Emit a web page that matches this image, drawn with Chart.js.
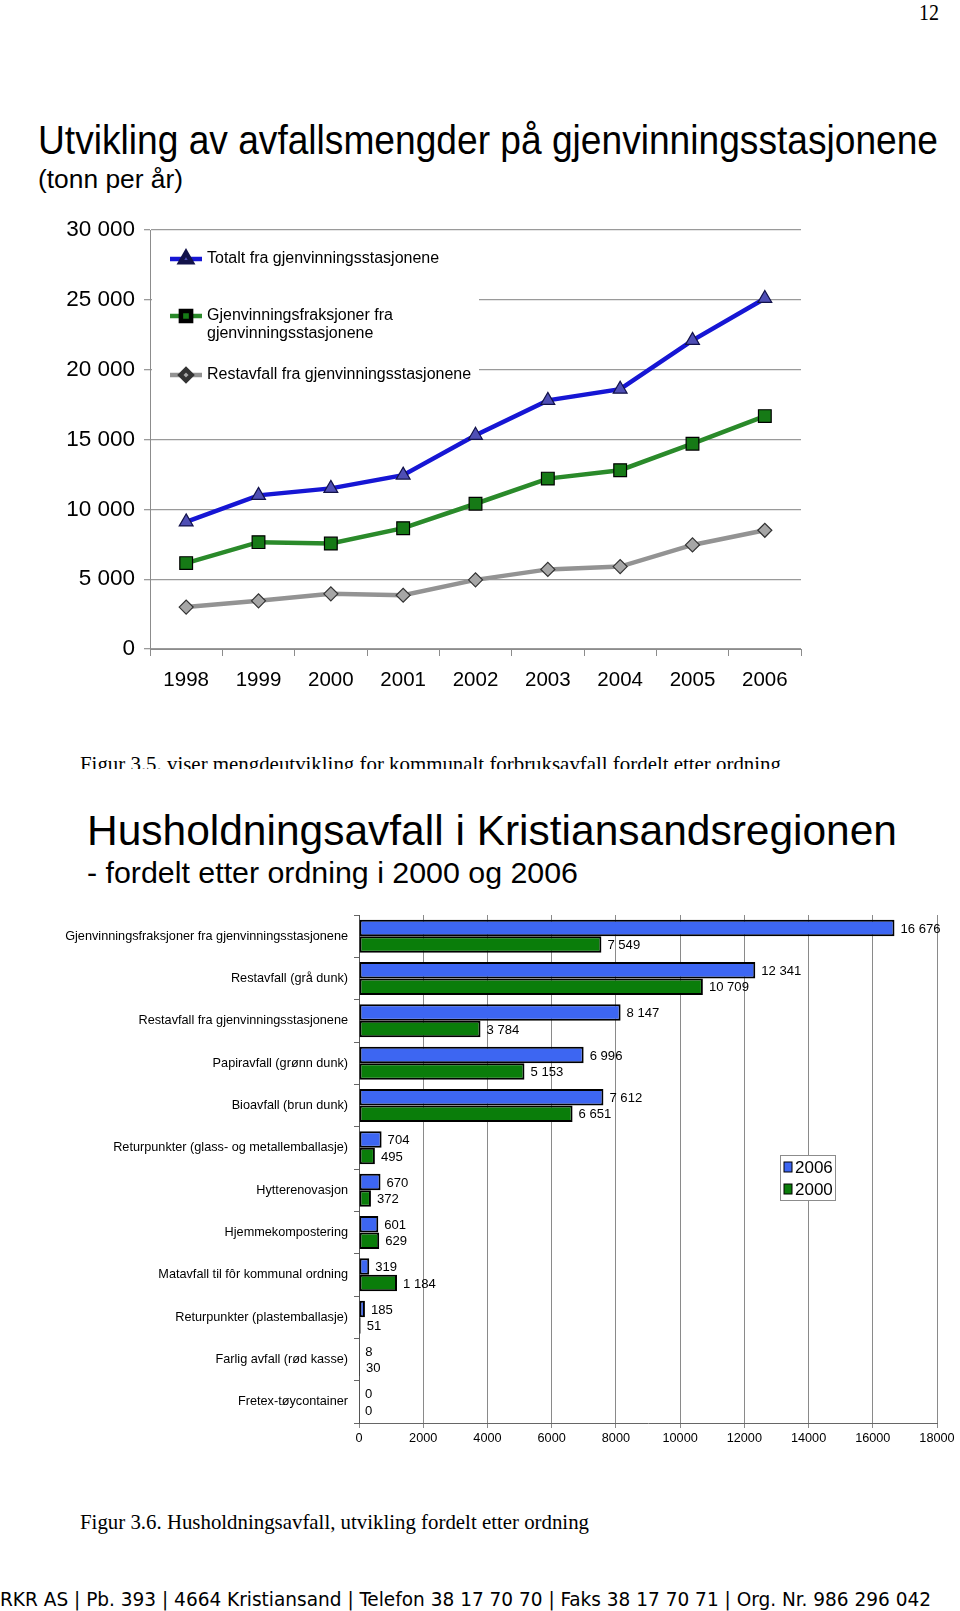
<!DOCTYPE html>
<html><head><meta charset="utf-8">
<script src="https://cdn.jsdelivr.net/npm/chart.js@4/dist/chart.umd.min.js"></script>
<style>
html,body{margin:0;padding:0;background:#fff;}
body{width:960px;height:1611px;position:relative;overflow:hidden;font-family:'Liberation Sans',Arial,sans-serif;color:#000;}
.t{position:absolute;white-space:nowrap;transform-origin:0 0;line-height:1;}
.serif{font-family:'Liberation Serif','Times New Roman',serif;}
canvas{position:absolute;left:0;}
</style></head><body>
<div class="t serif fit" data-w="20" style="left:919px;top:0px;font-size:24px;">12</div>
<div class="t fit" data-w="900" style="left:38px;top:120px;font-size:40px;">Utvikling av avfallsmengder på gjenvinningsstasjonene</div>
<div class="t fit" data-w="145" style="left:38px;top:166px;font-size:26px;">(tonn per år)</div>
<div style="position:absolute;left:0;top:750px;width:960px;height:19px;overflow:hidden;">
  <div class="t serif fit" data-w="701" style="left:80px;top:4px;font-size:21px;">Figur 3.5. viser mengdeutvikling for kommunalt forbruksavfall fordelt etter ordning</div>
</div>
<div class="t fit" data-w="810" style="left:87px;top:809px;font-size:43px;">Husholdningsavfall i Kristiansandsregionen</div>
<div class="t fit" data-w="491" style="left:87px;top:858px;font-size:30px;">- fordelt etter ordning i 2000 og 2006</div>
<div class="t serif fit" data-w="509" style="left:80px;top:1511px;font-size:22px;">Figur 3.6. Husholdningsavfall, utvikling fordelt etter ordning</div>
<div class="t fit" data-w="931" style="left:0px;top:1589px;font-size:20px;font-family:'DejaVu Sans Condensed','DejaVu Sans',sans-serif;">RKR AS | Pb. 393 | 4664 Kristiansand | Telefon 38 17 70 70 | Faks 38 17 70 71 | Org. Nr. 986 296 042</div>

<canvas id="c1" width="960" height="500" style="top:200px;width:960px;height:500px;"></canvas>
<canvas id="c2" width="960" height="600" style="top:880px;width:960px;height:600px;"></canvas>

<script>
// ---------- Data: chart 1 ----------
const years = ['1998','1999','2000','2001','2002','2003','2004','2005','2006'];
const totalt = [9100, 11000, 11500, 12450, 15300, 17800, 18600, 22100, 25100];
const gjenvinning = [6150, 7650, 7549, 8650, 10400, 12200, 12800, 14700, 16676];
const restavfall = [3000, 3450, 3950, 3850, 4950, 5700, 5900, 7450, 8500];
const seriesNames1 = ['Totalt fra gjenvinningsstasjonene', 'Gjenvinningsfraksjoner fra gjenvinningsstasjonene', 'Restavfall fra gjenvinningsstasjonene'];

// ---------- Data: chart 2 ----------
const ordninger = ['Gjenvinningsfraksjoner fra gjenvinningsstasjonene','Restavfall (grå dunk)','Restavfall fra gjenvinningsstasjonene','Papiravfall (grønn dunk)','Bioavfall (brun dunk)','Returpunkter (glass- og metallemballasje)','Hytterenovasjon','Hjemmekompostering','Matavfall til fôr kommunal ordning','Returpunkter (plastemballasje)','Farlig avfall (rød kasse)','Fretex-tøycontainer'];
const verdier2006 = [16676, 12341, 8147, 6996, 7612, 704, 670, 601, 319, 185, 8, 0];
const verdier2000 = [7549, 10709, 3784, 5153, 6651, 495, 372, 629, 1184, 51, 30, 0];
const aar2 = ['2006', '2000'];

// ---------- text fitting ----------
document.querySelectorAll('.fit').forEach(el => {
  const w = +el.dataset.w; const r = el.getBoundingClientRect().width;
  if (r > 0) el.style.transform = 'scaleX(' + (w / r) + ')';
});

function hasFont(name) {
  const c = document.createElement('canvas').getContext('2d');
  c.font = '40px monospace'; const a = c.measureText('mmmiiiWW 0123').width;
  c.font = '40px "' + name + '", monospace'; const b = c.measureText('mmmiiiWW 0123').width;
  return Math.abs(a - b) > 0.5;
}
const HAS_NARROW = hasFont('Liberation Sans Narrow');
function nf(size) {
  return HAS_NARROW ? {family: '"Liberation Sans Narrow"', size: size} : {family: '"Liberation Sans", Arial', size: Math.round(size * 0.82 * 10) / 10};
}
const fmt = v => String(Math.round(v)).replace(/\B(?=(\d{3})+(?!\d))/g, ' ');

// ---------- Chart 1 ----------
const styles1 = [
  {line: '#1616d4', style: 'triangle', r: 8, fill: '#4f4fb5', border: '#12124a'},
  {line: '#2a8a2a', style: 'rect', r: 9, fill: '#167a16', border: '#000'},
  {line: '#939393', style: 'rectRot', r: 7, fill: '#a6a6a6', border: '#333'}
];
const legend1 = {
  id: 'legend1',
  afterDatasetsDraw(chart) {
    const ctx = chart.ctx;
    ctx.save();
    ctx.fillStyle = '#fff';
    ctx.fillRect(152, 40, 327, 160);
    const items = [
      {y: 59, lines: [seriesNames1[0]]},
      {y: 116, lines: ['Gjenvinningsfraksjoner fra', 'gjenvinningsstasjonene']},
      {y: 175, lines: [seriesNames1[2]]}
    ];
    items.forEach((it, i) => {
      const s = styles1[i];
      ctx.strokeStyle = s.line; ctx.lineWidth = 4.5;
      ctx.beginPath(); ctx.moveTo(170, it.y); ctx.lineTo(202, it.y); ctx.stroke();
      ctx.fillStyle = s.fill; ctx.strokeStyle = s.border;
      Chart.helpers.drawPoint(ctx, {pointStyle: s.style, radius: s.r * 0.8, borderWidth: 1.2, rotation: 0}, 186, it.y);
      ctx.fillStyle = '#000';
      ctx.font = '16px "Liberation Sans", Arial';
      ctx.textBaseline = 'middle';
      it.lines.forEach((ln, k) => ctx.fillText(ln, 207, it.y + k * 18));
    });
    ctx.restore();
  }
};
new Chart(document.getElementById('c1'), {
  type: 'line',
  data: {labels: years, datasets: [totalt, gjenvinning, restavfall].map((d, i) => ({
    label: seriesNames1[i], data: d, borderColor: styles1[i].line, borderWidth: 4.5,
    pointStyle: styles1[i].style, pointRadius: styles1[i].r, pointBackgroundColor: styles1[i].fill,
    pointBorderColor: styles1[i].border, pointBorderWidth: 1.2, tension: 0, fill: false
  }))},
  options: {
    responsive: false, animation: false, devicePixelRatio: 1,
    layout: {padding: {top: 30, right: 159, left: 0, bottom: 0}},
    plugins: {legend: {display: false}, tooltip: {enabled: false}},
    scales: {
      x: {offset: true, grid: {offset: true, drawOnChartArea: false, tickLength: 7, color: '#8c8c8c'},
          border: {color: '#8c8c8c'}, ticks: {font: nf(25), color: '#000', padding: 12, maxRotation: 0},
          afterFit(s) { s.height = 51; }},
      y: {min: 0, max: 30000, ticks: {stepSize: 5000, callback: v => fmt(v), font: nf(27.5), color: '#000', padding: 9},
          grid: {color: '#9a9a9a', tickLength: 6, lineWidth: 1.3}, border: {color: '#8c8c8c'},
          afterFit(s) { s.width = 150; }}
    }
  },
  plugins: [legend1]
});

// ---------- Chart 2 ----------
const colors2 = ['#3d66f2', '#0a7d0a'];
const labels2 = {
  id: 'labels2',
  afterDatasetsDraw(chart) {
    const ctx = chart.ctx; ctx.save();
    const f = nf(16);
    ctx.font = f.size + 'px ' + f.family; ctx.fillStyle = '#000'; ctx.textBaseline = 'middle';
    chart.data.datasets.forEach((ds, di) => {
      chart.getDatasetMeta(di).data.forEach((el, i) => {
        ctx.fillText(fmt(ds.data[i]), el.x + 6, el.y + 1);
      });
    });
    // legend
    const lx = 780, ly = 275;
    ctx.fillStyle = '#fff'; ctx.fillRect(lx, ly, 55, 45);
    ctx.strokeStyle = '#8c8c8c'; ctx.lineWidth = 1; ctx.strokeRect(lx + 0.5, ly + 0.5, 55, 45);
    ctx.font = '17px "Liberation Sans", Arial';
    aar2.forEach((a, k) => {
      const y = ly + 12 + k * 22;
      ctx.fillStyle = colors2[k]; ctx.fillRect(lx + 4, y - 5, 8, 10);
      ctx.strokeStyle = '#000'; ctx.strokeRect(lx + 4, y - 5, 8, 10);
      ctx.fillStyle = '#000'; ctx.fillText(a, lx + 15, y + 1);
    });
    ctx.restore();
  }
};
new Chart(document.getElementById('c2'), {
  type: 'bar',
  data: {labels: ordninger, datasets: [verdier2006, verdier2000].map((d, i) => ({
    label: aar2[i], data: d, backgroundColor: colors2[i], borderColor: '#000', borderWidth: 2,
    borderSkipped: false, categoryPercentage: 0.78, barPercentage: 1
  }))},
  options: {
    indexAxis: 'y', responsive: false, animation: false, devicePixelRatio: 1,
    layout: {padding: {top: 35, right: 23, left: 0, bottom: 0}},
    plugins: {legend: {display: false}, tooltip: {enabled: false}},
    scales: {
      x: {min: 0, max: 18000, ticks: {stepSize: 2000, callback: v => String(v), font: nf(15.5), color: '#000', padding: 3, maxRotation: 0},
          grid: {color: '#8a8a8a', tickLength: 5}, border: {color: '#666'},
          afterFit(s) { s.height = 57; }},
      y: {grid: {offset: true, drawOnChartArea: false, tickLength: 5, color: '#666'}, border: {color: '#555'},
          ticks: {font: nf(15.5), color: '#000', padding: 6}, afterFit(s) { s.width = 359; }}
    }
  },
  plugins: [labels2]
});
</script>
</body></html>
